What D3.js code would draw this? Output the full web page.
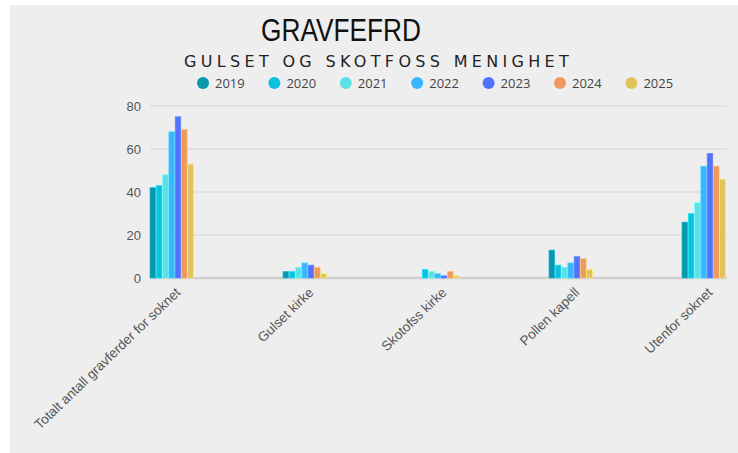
<!DOCTYPE html>
<html lang="en">
  <head>
    <meta charset="utf-8">
    <title>Gravferd</title>
    <script type="text/javascript" src="https://d3js.org/d3.v7.min.js"></script>
    <style type="text/css">
      body {
      margin: 0;
      background: #fff;
      font-family: "Open Sans", "Noto Sans", sans-serif;
      }
      .axis path,
      .axis line {
      fill: none;
      stroke: none;
      }
      .axis text {
      fill: #555;
      font-size: 13px;
      }
    </style>
  </head>
  <body>
    <script type="text/javascript">
      var categories = ["Totalt antall gravferder for soknet", "Gulset kirke", "Skotofss kirke", "Pollen kapell", "Utenfor soknet"];
      var years = ["2019", "2020", "2021", "2022", "2023", "2024", "2025"];
      var colors = ["#0a97ad", "#0cc0de", "#5ce1e6", "#38b6ff", "#5271ff", "#ee9a5c", "#e2c25c"];

      var v2019 = [42, 3, 0, 13, 26];
      var v2020 = [43, 3, 4, 6, 30];
      var v2021 = [48, 5, 3, 5, 35];
      var v2022 = [68, 7, 2, 7, 52];
      var v2023 = [75, 6, 1, 10, 58];
      var v2024 = [69, 5, 3, 9, 52];
      var v2025 = [53, 2, 1, 4, 46];
      var series = [v2019, v2020, v2021, v2022, v2023, v2024, v2025];
      var yTicks = [0, 20, 40, 60, 80];

      var width = 738, height = 453;

      var svg = d3.select("body").append("svg")
      .attr("width", width)
      .attr("height", height);

      svg.append("rect")
      .attr("x", 10).attr("y", 5)
      .attr("width", 728).attr("height", 448)
      .attr("fill", "#eeeeee");

      var x = d3.scaleBand()
      .domain(categories)
      .range([150, 726])
      .paddingInner(0.669)
      .paddingOuter(0);

      var x1 = d3.scaleBand()
      .domain(years)
      .range([0, x.bandwidth()]);

      var y = d3.scaleLinear()
      .domain([0, 80])
      .range([278, 106]);

      // grid
      svg.append("g")
      .selectAll("line")
      .data(yTicks)
      .enter().append("line")
      .attr("x1", 150).attr("x2", 727)
      .attr("y1", function(d){ return y(d); })
      .attr("y2", function(d){ return y(d); })
      .attr("stroke", function(d){ return d === 0 ? "#cfcfcf" : "#dcdcdc"; })
      .attr("stroke-width", function(d){ return d === 0 ? 2.5 : 1.5; });

      var yAxis = d3.axisLeft(y).tickValues(yTicks).tickSize(0).tickPadding(9);
      svg.append("g")
      .attr("class", "axis")
      .attr("transform", "translate(150,0)")
      .call(yAxis);

      // bars
      var rows = [];
      categories.forEach(function(c, i){
        years.forEach(function(yr, j){
          rows.push({cat: c, year: yr, j: j, value: series[j][i]});
        });
      });

      svg.append("g")
      .selectAll("rect")
      .data(rows.filter(function(d){ return d.value > 0; }))
      .enter().append("rect")
      .attr("x", function(d){ return x(d.cat) + x1(d.year); })
      .attr("y", function(d){ return y(d.value); })
      .attr("width", x1.bandwidth() - 0.6)
      .attr("height", function(d){ return y(0) - y(d.value); })
      .attr("fill", function(d){ return colors[d.j]; })
      .attr("stroke", function(d){ return d3.color(colors[d.j]).brighter(0.6); })
      .attr("stroke-width", 0.6);

      // x labels
      var xAxis = d3.axisBottom(x).tickSize(0).tickPadding(0);
      svg.append("g")
      .attr("class", "axis")
      .attr("transform", "translate(6,290)")
      .call(xAxis)
      .selectAll("text")
      .attr("x", 0)
      .attr("y", 0)
      .attr("dy", "0.35em")
      .attr("transform", "rotate(-44)")
      .style("text-anchor", "end")
      .style("font-size", "13.5px");

      // titles
      svg.append("text")
      .attr("x", 341).attr("y", 41)
      .attr("text-anchor", "middle")
      .attr("font-family", "'Liberation Sans', Arial, sans-serif")
      .attr("font-size", 32)
      .attr("textLength", 160)
      .attr("lengthAdjust", "spacingAndGlyphs")
      .attr("fill", "#111")
      .text("GRAVFEFRD");

      svg.append("text")
      .attr("x", 378).attr("y", 67)
      .attr("text-anchor", "middle")
      .attr("font-family", "'DejaVu Sans', sans-serif")
      .attr("font-size", 16)
      .attr("letter-spacing", "3.2px")
      .attr("textLength", 388)
      .attr("lengthAdjust", "spacing")
      .attr("fill", "#222")
      .text("GULSET OG SKOTFOSS MENIGHET");

      // legend
      var legend = svg.append("g")
      .selectAll("g")
      .data(years)
      .enter().append("g")
      .attr("transform", function(d, i){ return "translate(" + (203 + i * 71.4) + ",83)"; });

      legend.append("circle")
      .attr("r", 6)
      .attr("fill", function(d, i){ return colors[i]; });

      legend.append("text")
      .attr("x", 12)
      .attr("dy", "0.35em")
      .attr("font-size", 13)
      .attr("fill", "#444")
      .text(function(d){ return d; });
    </script>
  </body>
</html>
